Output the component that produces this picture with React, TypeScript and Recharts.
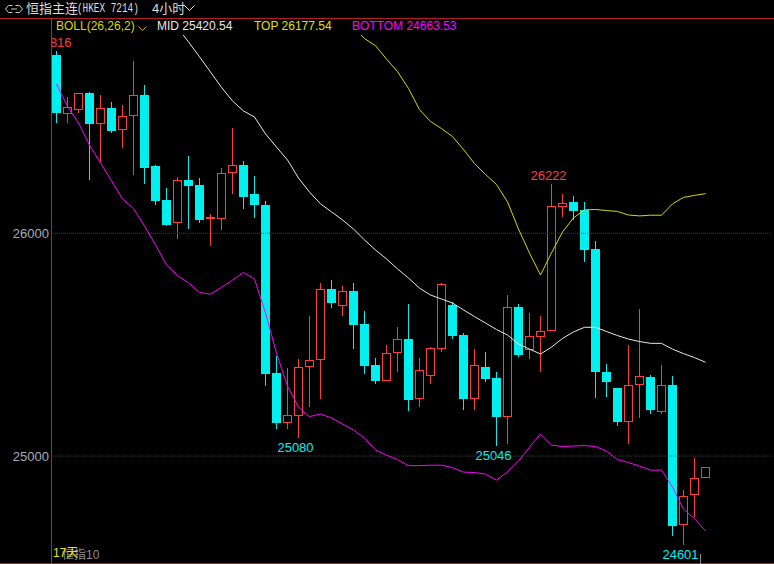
import React from 'react';
import { ComposedChart, Bar, Line, XAxis, YAxis, ReferenceLine } from 'recharts';

// 4h candles, oldest first
const opens = [
  26800, 26537, 26555, 26630, 26492, 26563, 26462, 26525, 26621, 26302,
  26150, 26045, 26239, 26217, 26063, 26066, 26269, 26307, 26176, 26127,
  25373, 25150, 25178, 25398, 25430, 25750, 25675, 25741, 25593, 25409,
  25338, 25461, 25525, 25257, 25361, 25482, 25678, 25543, 25257, 25400,
  25350, 25176, 25669, 25477, 25533, 25560, 26120, 26141, 26105, 25930,
  25377, 25305, 25153, 25321, 25355, 25199, 25319, 24689, 24824, 24900,
];
const highs = [
  26816, 26612, 26630, 26634, 26621, 26590, 26576, 26774, 26666, 26305,
  26203, 26253, 26347, 26248, 26087, 26293, 26473, 26325, 26257, 26145,
  25449, 25397, 25436, 25629, 25777, 25790, 25763, 25777, 25651, 25440,
  25498, 25579, 25683, 25440, 25489, 25778, 25693, 25552, 25480, 25467,
  25377, 25723, 25683, 25642, 25629, 26222, 26176, 26167, 26141, 25965,
  25413, 25305, 25498, 25658, 25364, 25409, 25359, 24847, 24990, 24953,
];
const lows = [
  26494, 26494, 26541, 26241, 26321, 26452, 26384, 26263, 26223, 26128,
  26033, 25973, 26021, 26048, 25944, 26016, 26178, 26110, 26070, 25316,
  25123, 25120, 25080, 25221, 25257, 25666, 25630, 25482, 25370, 25325,
  25335, 25379, 25202, 25221, 25325, 25467, 25527, 25207, 25207, 25334,
  25046, 25054, 25446, 25437, 25379, 25560, 26073, 26060, 25871, 25262,
  25266, 25135, 25055, 25172, 25189, 25189, 24641, 24601, 24728, 24900,
];
const closes = [
  26539, 26567, 26630, 26492, 26561, 26461, 26525, 26621, 26295, 26146,
  26039, 26238, 26214, 26061, 26073, 26269, 26305, 26164, 26128, 25370,
  25150, 25183, 25400, 25431, 25749, 25688, 25741, 25588, 25406, 25338,
  25461, 25525, 25251, 25385, 25484, 25771, 25539, 25256, 25407, 25347,
  25176, 25669, 25455, 25539, 25561, 26123, 26136, 26101, 25925, 25377,
  25332, 25153, 25319, 25360, 25207, 25319, 24686, 24819, 24900, 24949,
];

// BOLL(26,26,2) as drawn; null where the band is above the visible range
const mids = [
  null, null, null, null, null, null, null, null, null, null,
  null, 26923, 26859, 26792, 26724, 26655, 26594, 26549, 26522, 26446,
  26387, 26329, 26248, 26185, 26132, 26096, 26060, 26019, 25970, 25925,
  25885, 25840, 25799, 25754, 25723, 25705, 25687, 25656, 25626, 25597,
  25568, 25543, 25503, 25480, 25458, 25489, 25528, 25557, 25578, 25578,
  25559, 25541, 25525, 25514, 25506, 25506, 25480, 25460, 25442, 25421,
];
const tops = [
  null, null, null, null, null, null, null, null, null, null,
  null, null, null, null, null, null, null, null, null, null,
  null, null, null, null, null, null, null, 26923, 26874, 26842,
  26782, 26726, 26650, 26555, 26502, 26470, 26434, 26376, 26313, 26264,
  26219, 26141, 26019, 25911, 25813, 25912, 26006, 26069, 26105, 26107,
  26102, 26098, 26082, 26078, 26081, 26081, 26132, 26161, 26170, 26178,
];
const bottoms = [
  26670, 26571, 26495, 26396, 26316, 26235, 26154, 26111, 26033, 25948,
  25858, 25811, 25777, 25734, 25727, 25757, 25790, 25824, 25795, 25642,
  25462, 25314, 25219, 25177, 25189, 25171, 25144, 25117, 25081, 25027,
  25004, 24984, 24957, 24957, 24959, 24959, 24948, 24928, 24926, 24919,
  24892, 24930, 24978, 25040, 25099, 25049, 25043, 25045, 25047, 25043,
  25022, 24984, 24971, 24955, 24937, 24937, 24861, 24762, 24719, 24664,
];

const yTicks = [25000, 26000];
// extreme-price markers: candle index and which end
const markIndex = [0, 45, 22, 40, 57];
const markSide = ['high', 'high', 'low', 'low', 'low'];

const UP = '#ff3c3c';
const DOWN = '#00f0f0';
const FONT = "'Liberation Sans', Arial, 'Noto Sans CJK SC', sans-serif";

const rows = opens.map((open, i) => ({
  i,
  open,
  high: highs[i],
  low: lows[i],
  close: closes[i],
  range: [lows[i], highs[i]],
  mid: mids[i],
  top: tops[i],
  bottom: bottoms[i],
}));

function Candle(props: any) {
  const { x, y, width, height, payload } = props;
  if (!payload || x == null) return null;
  const { open, close, high, low, i } = payload;
  const span = high - low;
  const py = (p: number) => (span > 0 ? y + ((high - p) / span) * height : y);
  const cx = Math.floor(x + width / 2) + 0.5;
  const up = close >= open;
  const color = up ? UP : DOWN;
  const bTop = Math.round(py(Math.max(open, close)));
  const bBot = Math.round(py(Math.min(open, close)));
  const hY = Math.round(py(high));
  const lY = Math.round(py(low));
  const left = cx - 4.5;

  const k = markIndex.indexOf(i);
  let mark = null;
  if (k >= 0) {
    const isHigh = markSide[k] === 'high';
    mark = (
      <text
        x={cx - 3}
        y={isHigh ? hY - 4 : lY + 14}
        textAnchor="middle"
        fill={isHigh ? UP : DOWN}
        fontSize={13}
        fontFamily={FONT}
      >
        {isHigh ? high : low}
      </text>
    );
  }

  if (up) {
    return (
      <g>
        {hY < bTop && <line x1={cx} x2={cx} y1={hY} y2={bTop} stroke={color} />}
        {lY > bBot && <line x1={cx} x2={cx} y1={bBot} y2={lY} stroke={color} />}
        <rect
          x={left + 0.5}
          y={bTop + 0.5}
          width={8}
          height={Math.max(bBot - bTop - 1, 1)}
          fill="#000"
          stroke={color}
        />
        {mark}
      </g>
    );
  }
  return (
    <g>
      <line x1={cx} x2={cx} y1={hY} y2={lY} stroke={color} />
      <rect x={left} y={bTop} width={9} height={Math.max(bBot - bTop, 1)} fill={color} />
      {mark}
    </g>
  );
}

export default function App() {
  return (
    <div
      style={{
        position: 'fixed',
        left: 0,
        top: 0,
        width: 774,
        height: 564,
        background: '#000',
        overflow: 'hidden',
        fontFamily: FONT,
      }}
    >
      <ComposedChart
        width={774}
        height={564}
        data={rows}
        margin={{ top: 35, right: 2.5, bottom: 1, left: 0 }}
      >
        <XAxis type="number" dataKey="i" domain={[-0.5, 65]} hide allowDataOverflow />
        <YAxis
          width={51}
          domain={[24520, 26890]}
          ticks={yTicks}
          allowDataOverflow
          axisLine={false}
          tickLine={false}
          tickSize={0}
          tickMargin={2}
          tick={{ fill: '#a4adb6', fontSize: 13, fontFamily: FONT }}
        />
        {yTicks.map((t) => (
          <ReferenceLine key={t} y={t} stroke="#8c1c1c" strokeDasharray="1 1" />
        ))}
        <Bar dataKey="range" barSize={9} shape={<Candle />} isAnimationActive={false} />
        <Line type="linear" dataKey="mid" stroke="#e8e8e8" strokeWidth={1} dot={false} isAnimationActive={false} />
        <Line type="linear" dataKey="top" stroke="#d8d800" strokeWidth={1} dot={false} isAnimationActive={false} />
        <Line type="linear" dataKey="bottom" stroke="#ff00ff" strokeWidth={1} dot={false} isAnimationActive={false} />
      </ComposedChart>

      {/* frame */}
      <div style={{ position: 'absolute', left: 0, top: 18, width: 774, height: 1, background: '#b41e1e' }} />
      <div style={{ position: 'absolute', left: 51, top: 18, width: 1, height: 546, background: '#b42828' }} />
      <div style={{ position: 'absolute', left: 0, top: 563, width: 774, height: 1, background: '#b41e1e' }} />

      {/* header */}
      <svg style={{ position: 'absolute', left: 4, top: 3 }} width={20} height={12}>
        <path d="M8.5,2.5 H4.5 L1.5,6 L4.5,9.5 H8.5" fill="none" stroke="#c8c8c8" />
        <path d="M11.5,2.5 H15.5 L18.5,6 L15.5,9.5 H11.5" fill="none" stroke="#c8c8c8" />
        <line x1={7} x2={13} y1={6} y2={6} stroke="#c8c8c8" />
      </svg>
      <div style={{ position: 'absolute', left: 26, top: 0, fontSize: 13, lineHeight: '17px', color: '#dcdcdc', whiteSpace: 'nowrap' }}>
        恒指主连
      </div>
      <div
        style={{
          position: 'absolute',
          left: 77,
          top: 1,
          fontSize: 12,
          lineHeight: '17px',
          color: '#dcdcdc',
          whiteSpace: 'nowrap',
          fontFamily: "'Liberation Mono', 'DejaVu Sans Mono', monospace",
          transform: 'scaleX(0.78)',
          transformOrigin: 'left center',
        }}
      >
        (HKEX 7214)
      </div>
      <div style={{ position: 'absolute', left: 152, top: 0, fontSize: 13, lineHeight: '17px', color: '#dcdcdc', whiteSpace: 'nowrap' }}>
        4小时
      </div>
      <svg style={{ position: 'absolute', left: 184, top: 5 }} width={11} height={7}>
        <polyline points="0.5,0.5 5.5,5.5 10.5,0.5" fill="none" stroke="#dcdcdc" />
      </svg>

      {/* indicator legend */}
      <div style={{ position: 'absolute', left: 56, top: 19, fontSize: 12, lineHeight: '14px', color: '#d8d800', whiteSpace: 'nowrap' }}>
        BOLL(26,26,2)
      </div>
      <svg style={{ position: 'absolute', left: 138, top: 26 }} width={10} height={6}>
        <polyline points="0.5,0.5 4.5,4.5 8.5,0.5" fill="none" stroke="#e0a800" />
      </svg>
      <div style={{ position: 'absolute', left: 157, top: 19, fontSize: 12, lineHeight: '14px', color: '#e8e8e8', whiteSpace: 'nowrap' }}>
        MID 25420.54
      </div>
      <div style={{ position: 'absolute', left: 254, top: 19, fontSize: 12, lineHeight: '14px', color: '#e0e000', whiteSpace: 'nowrap' }}>
        TOP 26177.54
      </div>
      <div style={{ position: 'absolute', left: 352, top: 19, fontSize: 12, lineHeight: '14px', color: '#ff00ff', whiteSpace: 'nowrap' }}>
        BOTTOM 24663.53
      </div>

      {/* footer: the two tags overlap in the original terminal view */}
      <div style={{ position: 'absolute', left: 62, top: 548, fontSize: 12, lineHeight: '14px', color: '#8c8c8c', whiteSpace: 'nowrap' }}>
        恒指10
      </div>
      <div style={{ position: 'absolute', left: 53, top: 546, fontSize: 12, lineHeight: '14px', color: '#e6e600', whiteSpace: 'nowrap' }}>
        17天
      </div>
      <div style={{ position: 'absolute', left: 700, top: 554, width: 1, height: 10, background: '#8c8c8c' }} />
    </div>
  );
}
